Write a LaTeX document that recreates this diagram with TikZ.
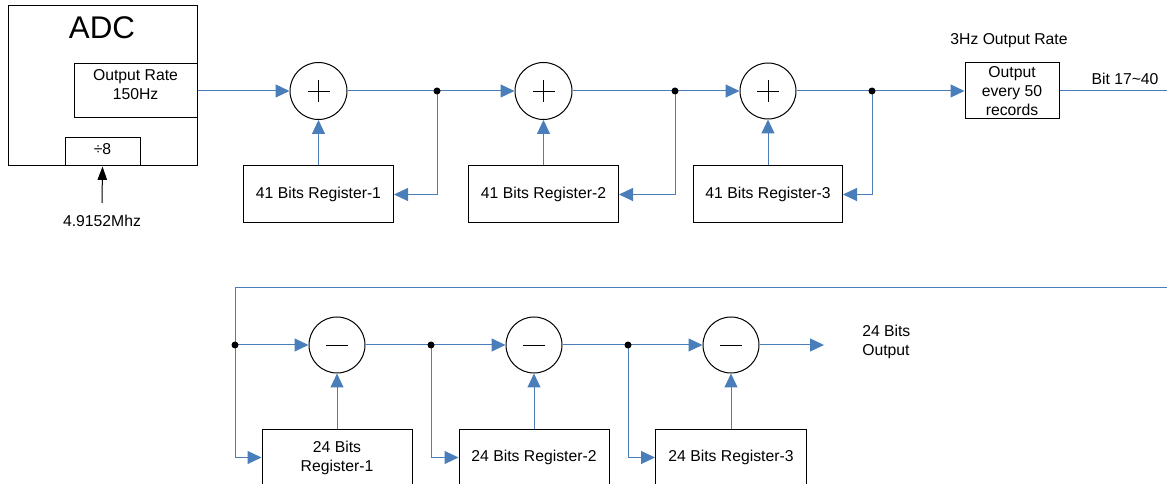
\documentclass[tikz,border=0pt]{standalone}
\usepackage{fontspec}
\setmainfont{Liberation Sans}
\usetikzlibrary{arrows.meta,calc}
\definecolor{linkblue}{RGB}{74,126,187}
\begin{document}
\begin{tikzpicture}[x=0.75pt,y=-0.75pt,
  font=\fontsize{11.8}{14.3}\selectfont,
  box/.style={draw=black,line width=0.75pt,rectangle,inner sep=0pt,align=center},
  sumnode/.style={draw=black,line width=0.75pt,circle,inner sep=0pt,fill=white},
  wire/.style={draw=linkblue,line width=0.75pt},
  flow/.style={wire,-{Triangle[length=10.5pt,width=9.75pt]}},
  txt/.style={inner sep=0pt,align=center},
  sign/.style={draw=black,line width=0.6pt}
]
\useasboundingbox (0,0) rectangle (1167,484);

% ---------- ADC ----------
\node[box,minimum width=141.75pt,minimum height=120pt] (adc) at (102.5,86) {};
\node[txt,font=\fontsize{23.5}{28}\selectfont] (adclbl) at (102,28) {ADC};
\node[box,minimum width=92.25pt,minimum height=40.5pt] (rate) at (135.5,91) {};
\node[txt] (ratetxt) at (135.5,84.5) {Output Rate\\150Hz};
\node[box,minimum width=56.25pt,minimum height=21pt] (div) at (102.5,152) {};
\node[txt] (divtxt) at (102.5,149) {÷8};
\node[txt] (clk) at (102,221) {4.9152Mhz};
\draw[line width=0.75pt,-{Triangle[length=10pt,width=7pt]}] ($(clk.north)+(0,-12)$) -- (div.south);

% ---------- integrators ----------
\node[sumnode,minimum size=42.75pt] (sum1) at (318.5,91) {};
\node[sumnode,minimum size=42.75pt] (sum2) at (543.5,91) {};
\node[sumnode,minimum size=42pt] (sum3) at (768,91) {};
\foreach \s in {sum1,sum2,sum3}{
  \draw[sign] (\s.center) +(-11,0) -- +(11,0) +(0,-11) -- +(0,11);
}
\coordinate (d1) at (437,91);
\coordinate (d2) at (675,91);
\coordinate (d3) at (872,91);
\node[box,minimum width=112.5pt,minimum height=42.75pt] (reg1) at (318.5,194.5) {41 Bits Register-1};
\node[box,minimum width=112.5pt,minimum height=42.75pt] (reg2) at (543.5,194.5) {41 Bits Register-2};
\node[box,minimum width=111.75pt,minimum height=42.75pt] (reg3) at (768,194.5) {41 Bits Register-3};
\node[box,minimum width=70.5pt,minimum height=42pt] (outbox) at (1012,91) {Output\\every 50\\records};
\node[txt] (ratelbl) at (1009,41) {3Hz Output Rate};
\node[txt] (bitlbl) at (1125,79) {Bit 17\textasciitilde 40};
\coordinate (topend) at (1170,91);

\draw[flow] (rate.east) -- (sum1.west);
\draw[wire] (sum1.east) -- (d1);
\draw[flow] (d1) -- (sum2.west);
\draw[flow] (d1) |- (reg1.east);
\draw[wire] (sum2.east) -- (d2);
\draw[flow] (d2) -- (sum3.west);
\draw[flow] (d2) |- (reg2.east);
\draw[wire] (sum3.east) -- (d3);
\draw[flow] (d3) -- (outbox.west);
\draw[flow] (d3) |- (reg3.east);
\draw[wire] (outbox.east) -- (topend);
\draw[flow] (reg1.north) -- (sum1.south);
\draw[flow] (reg2.north) -- (sum2.south);
\draw[flow] (reg3.north) -- (sum3.south);

% ---------- combs ----------
\coordinate (botend) at (1170,288);
\coordinate (e0) at (235,345);
\coordinate (e1) at (431,345);
\coordinate (e2) at (628,345);
\node[sumnode,minimum size=42pt] (sum4) at (337,345) {};
\node[sumnode,minimum size=42pt] (sum5) at (534,345) {};
\node[sumnode,minimum size=42pt] (sum6) at (731,345) {};
\foreach \s in {sum4,sum5,sum6}{
  \draw[sign] (\s.center) +(-11,0) -- +(11,0);
}
\node[box,minimum width=112.5pt,minimum height=42.75pt] (r4) at (337,457.5) {24 Bits\\Register-1};
\node[box,minimum width=112.5pt,minimum height=42.75pt] (r5) at (534,457.5) {24 Bits Register-2};
\node[box,minimum width=113.25pt,minimum height=42.75pt] (r6) at (731,457.5) {24 Bits Register-3};
\coordinate (outend) at (824,345);
\node[txt,align=left,anchor=west] (outlbl) at (862,342) {24 Bits\\Output};

\draw[wire] (botend) -| (e0);
\draw[flow] (e0) -- (sum4.west);
\draw[flow] (e0) |- (r4.west);
\draw[wire] (sum4.east) -- (e1);
\draw[flow] (e1) -- (sum5.west);
\draw[flow] (e1) |- (r5.west);
\draw[wire] (sum5.east) -- (e2);
\draw[flow] (e2) -- (sum6.west);
\draw[flow] (e2) |- (r6.west);
\draw[flow] (sum6.east) -- (outend);
\draw[flow] (r4.north) -- (sum4.south);
\draw[flow] (r5.north) -- (sum5.south);
\draw[flow] (r6.north) -- (sum6.south);

% junction dots
\foreach \d in {d1,d2,d3,e0,e1,e2}{
  \fill[black] (\d) circle (3.5);
}
\end{tikzpicture}
\end{document}
